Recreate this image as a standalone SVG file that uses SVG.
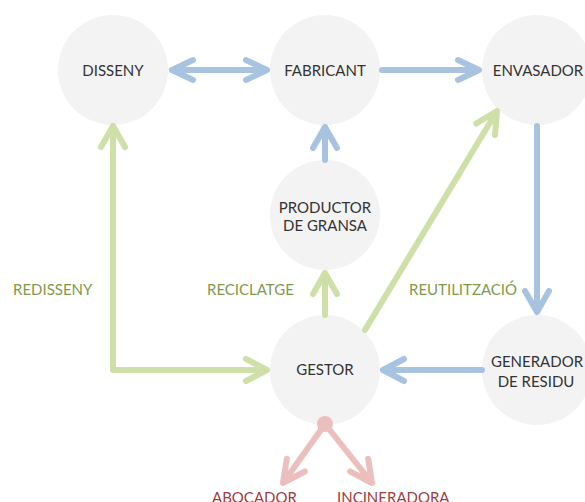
<svg xmlns="http://www.w3.org/2000/svg" width="585" height="502" viewBox="0 0 585 502">
<style>
.node{fill:#f3f3f3}
.t{font-family:Lato,"Noto Sans",sans-serif;font-size:15px;fill:#333;text-anchor:middle}
.lbl{font-family:Lato,"Noto Sans",sans-serif;font-size:15px;fill:#7f9a4a}
.red{font-family:Lato,"Noto Sans",sans-serif;font-size:15px;fill:#a03c3e}
.b{stroke:#a7c3e0;stroke-width:6;fill:none;stroke-linecap:round;stroke-linejoin:round}
.g{stroke:#cfdfa8;stroke-width:6;fill:none;stroke-linecap:round;stroke-linejoin:round}
.p{stroke:#ecbfbf;stroke-width:6;fill:none;stroke-linecap:round;stroke-linejoin:round}
</style>
<rect width="585" height="502" fill="#fff"/>
<g id="disseny"><circle class="node" cx="113" cy="70" r="55"/><text class="t" x="113" y="76">DISSENY</text></g>
<g id="fabricant"><circle class="node" cx="325" cy="70" r="55"/><text class="t" x="325" y="76">FABRICANT</text></g>
<g id="envasador"><circle class="node" cx="537" cy="70" r="55"/><text class="t" x="538" y="76">ENVASADOR</text></g>
<g id="productor"><circle class="node" cx="325" cy="215" r="55"/><text class="t" x="325" y="213">PRODUCTOR</text><text class="t" x="325" y="231">DE GRANSA</text></g>
<g id="gestor"><circle class="node" cx="325" cy="370" r="55"/><text class="t" x="325" y="375">GESTOR</text></g>
<g id="generador"><circle class="node" cx="537" cy="370" r="55"/><text class="t" x="537" y="367">GENERADOR</text><text class="t" x="536" y="387">DE RESIDU</text></g>
<g id="connectors">
<path class="b" d="M172,70H267M193,60L172,70L193,80M246,60L267,70L246,80"/>
<path class="b" d="M382,70H479M458,60L479,70L458,80"/>
<path class="b" d="M537,126V312M525,291L537,312L549,291"/>
<path class="b" d="M325,160V127M313,148L325,127L337,148"/>
<path class="b" d="M482,370H383M404,359L383,370L404,381"/>
<path class="g" d="M325,315V273M313,294L325,273L337,294"/>
<path class="g" d="M365,330L497,111M476.3,123.5L497,111L495,135"/>
<path class="g" d="M113,126V370H267M101,147L113,126L125,147M246,359L267,370L246,381"/>
<circle cx="325" cy="424" r="8" fill="#ecbfbf"/>
<path class="p" d="M325,424L283,483M286.8,458.7L283,483L304.8,471.5"/>
<path class="p" d="M325,424L372,483M368.2,458.7L372,483L350.2,471.5"/>
</g>
<g id="labels">
<text class="lbl" x="13" y="295">REDISSENY</text>
<text class="lbl" x="207" y="295">RECICLATGE</text>
<text class="lbl" x="409" y="295">REUTILITZACIÓ</text>
<text class="red" x="212" y="503">ABOCADOR</text>
<text class="red" x="337" y="503">INCINERADORA</text>
</g>
</svg>
